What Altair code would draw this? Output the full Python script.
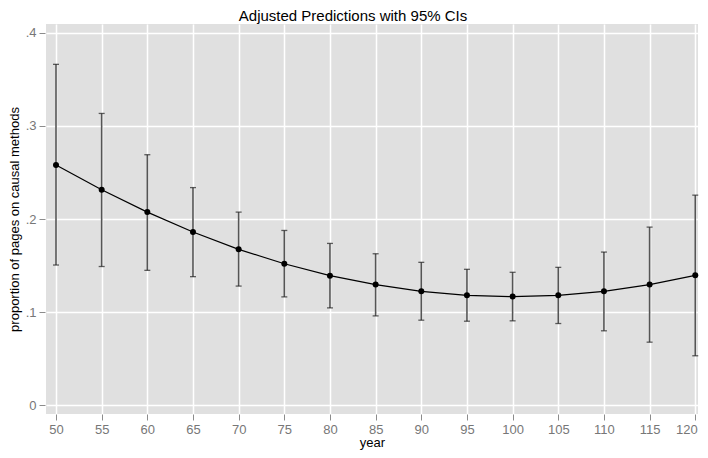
import altair as alt
import pandas as pd

years = [50, 55, 60, 65, 70, 75, 80, 85, 90, 95, 100, 105, 110, 115, 120]
margin = [0.258, 0.2313, 0.2074, 0.186, 0.1674, 0.152, 0.1392, 0.1296, 0.1224, 0.1181, 0.1167, 0.1181, 0.1224, 0.1296, 0.1395]
upper = [0.366, 0.3133, 0.269, 0.2337, 0.2074, 0.1877, 0.1738, 0.1627, 0.1535, 0.146, 0.1428, 0.1481, 0.1645, 0.1913, 0.2256]
lower = [0.1506, 0.149, 0.1449, 0.1381, 0.128, 0.1164, 0.1046, 0.096, 0.0914, 0.0903, 0.0907, 0.0878, 0.080, 0.0678, 0.0532]
x_ticks = [50, 55, 60, 65, 70, 75, 80, 85, 90, 95, 100, 105, 110, 115, 120]
y_ticks = [0, 0.1, 0.2, 0.3, 0.4]

df = pd.DataFrame({"year": years, "margin": margin, "ub": upper, "lb": lower})

font = "Liberation Sans"
xs = alt.Scale(domain=[48.905, 120.3], nice=False, zero=False)
ys = alt.Scale(domain=[-0.0093, 0.4093], nice=False, zero=False)

xaxis = alt.Axis(values=x_ticks, title="year", grid=True, gridColor="white", gridWidth=1.5,
                 domain=False, ticks=True, tickColor="#8c8c8c", tickSize=6,
                 labelColor="#777777", labelFontSize=13, labelFont=font, labelPadding=3,
                 labelFlush=5, labelFlushOffset=2,
                 titleFont=font, titleFontSize=13, titleFontWeight="normal", titleColor="black",
                 titleY=32, titleBaseline="alphabetic")
yaxis = alt.Axis(values=y_ticks, title="proportion of pages on causal methods", grid=True,
                 gridColor="white", gridWidth=1.5, domain=False, ticks=True, tickColor="#8c8c8c",
                 tickSize=6, offset=1,
                 labelExpr="datum.value == 0 ? '0' : replace(format(datum.value, '.1f'), '0.', '.')",
                 labelColor="#777777", labelFontSize=13, labelFont=font, labelPadding=3,
                 titleFont=font, titleFontSize=13, titleFontWeight="normal", titleColor="black",
                 titleX=-31, titleBaseline="middle")

base = alt.Chart(df)

rules = base.mark_rule(color="#555555", strokeWidth=1.6).encode(
    x=alt.X("year:Q", scale=xs, axis=xaxis),
    y=alt.Y("lb:Q", scale=ys, axis=yaxis),
    y2="ub:Q",
)
cap_hi = base.mark_tick(orient="horizontal", color="#222222", size=6, thickness=1.3).encode(
    x=alt.X("year:Q", scale=xs), y=alt.Y("ub:Q", scale=ys))
cap_lo = base.mark_tick(orient="horizontal", color="#222222", size=6, thickness=1.3).encode(
    x=alt.X("year:Q", scale=xs), y=alt.Y("lb:Q", scale=ys))
line = base.mark_line(color="black", strokeWidth=1.2).encode(
    x=alt.X("year:Q", scale=xs), y=alt.Y("margin:Q", scale=ys))
pts = base.mark_circle(color="black", size=36, opacity=1).encode(
    x=alt.X("year:Q", scale=xs), y=alt.Y("margin:Q", scale=ys))

chart = alt.layer(rules, cap_hi, cap_lo, line, pts).properties(
    width=652, height=390,
    autosize=alt.AutoSizeParams(type="none"),
    padding={"left": 38, "top": 16, "right": 2, "bottom": 36},
    title=alt.TitleParams("Adjusted Predictions with 95% CIs", font=font, fontSize=15,
                          fontWeight="normal", color="black", anchor="middle", dx=-19,
                          offset=0),
).configure(
    background="white",
    view=alt.ViewConfig(fill="#e0e0e0", stroke=None),
)

chart.save("out.html", embed_options={"renderer": "svg", "actions": False})
